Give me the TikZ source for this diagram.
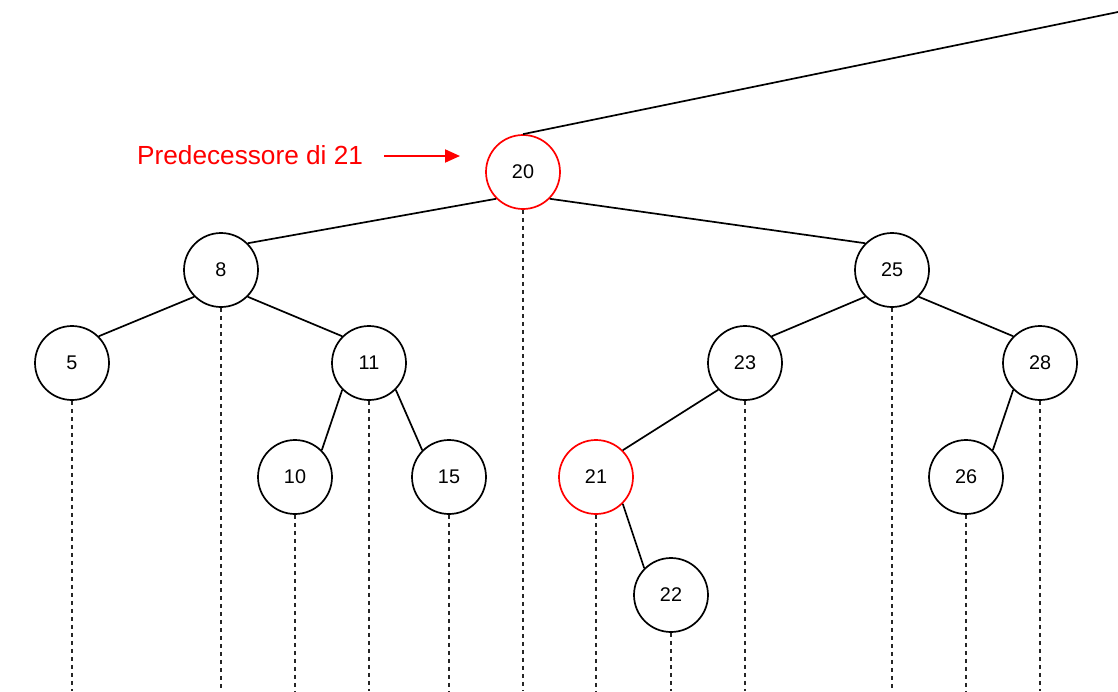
\documentclass[tikz,border=0pt]{standalone}
\usepackage{fontspec}
\setmainfont{Liberation Sans}
\usetikzlibrary{arrows.meta,positioning}

\begin{document}
\begin{tikzpicture}[
    x=1pt, y=-1pt,
    nd/.style={circle, draw, line width=1.7pt, minimum size=74pt, inner sep=0pt, font=\fontsize{19.8}{22}\selectfont},
    rd/.style={nd, draw=red},
    ed/.style={line width=1.7pt},
    dl/.style={line width=1.1pt, dash pattern=on 4pt off 4pt, black!85},
    lbl/.style={font=\fontsize{26.2}{30}\selectfont, text=red, inner sep=0pt}
]
\useasboundingbox (0,0) rectangle (1118,691);
% tree nodes
\node[rd] (n20) at (523,172) {20};
\node[nd] (n8) at (221,270) {8};
\node[nd] (n25) at (892,270) {25};
\node[nd] (n5) at (72,363) {5};
\node[nd] (n11) at (369,363) {11};
\node[nd] (n23) at (745,363) {23};
\node[nd] (n28) at (1040,363) {28};
\node[nd] (n10) at (295,477) {10};
\node[nd] (n15) at (449,477) {15};
\node[rd] (n21) at (596,477) {21};
\node[nd] (n26) at (966,477) {26};
\node[nd] (n22) at (671,595) {22};
% edge to the parent, running off the page
\coordinate (up) at (1118,12);
\draw[ed] (n20.north) -- (up);
% tree edges
\draw[ed] (n20.south west) -- (n8.north east);
\draw[ed] (n20.south east) -- (n25.north west);
\draw[ed] (n8.south west) -- (n5.north east);
\draw[ed] (n8.south east) -- (n11.north west);
\draw[ed] (n11.south west) -- (n10.north east);
\draw[ed] (n11.south east) -- (n15.north west);
\draw[ed] (n25.south west) -- (n23.north east);
\draw[ed] (n25.south east) -- (n28.north west);
\draw[ed] (n23.south west) -- (n21.north east);
\draw[ed] (n28.south west) -- (n26.north east);
\draw[ed] (n21.south east) -- (n22.north west);
% projections down to the bottom
\foreach \n in {n20,n8,n25,n5,n11,n23,n28,n10,n15,n21,n26,n22}
    \draw[dl] (\n.south) -- (\n.south |- 0,691);
% label
\node[lbl, anchor=base west] (pred) at (137,164) {Predecessore di 21};
\coordinate (tip) at (460,156);
\draw[line width=2pt, red, -{Triangle[length=15pt,width=13pt]}] ([xshift=21pt]pred.east |- tip) -- (tip);
\end{tikzpicture}
\end{document}
